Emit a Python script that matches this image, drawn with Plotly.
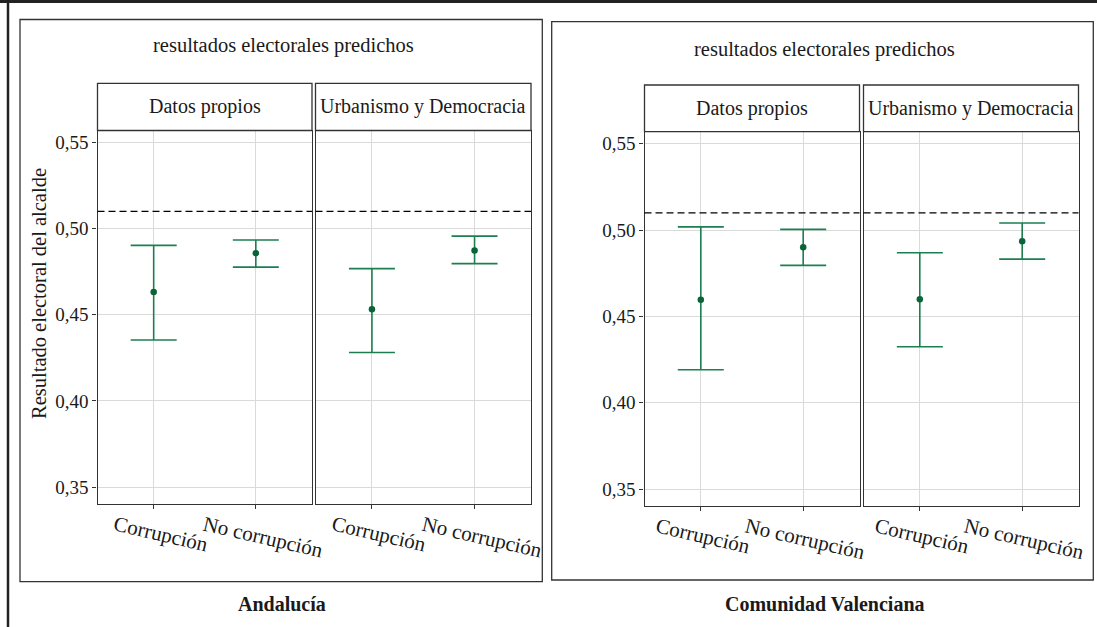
import plotly.graph_objects as go

# ---------------- data ----------------
categories = ["Corrupción", "No corrupción"]
facets = ["Datos propios", "Urbanismo y Democracia"]
regions = ["Andalucía", "Comunidad Valenciana"]
panel_title = "resultados electorales predichos"
y_title = "Resultado electoral del alcalde"

and_dp_mean = [0.4632, 0.4858]
and_dp_lower = [0.4354, 0.4777]
and_dp_upper = [0.4903, 0.4934]

and_ud_mean = [0.4532, 0.4874]
and_ud_lower = [0.4281, 0.4797]
and_ud_upper = [0.4768, 0.4957]

val_dp_mean = [0.4596, 0.4900]
val_dp_lower = [0.4191, 0.4796]
val_dp_upper = [0.5019, 0.5004]

val_ud_mean = [0.4600, 0.4935]
val_ud_lower = [0.4324, 0.4832]
val_ud_upper = [0.4869, 0.5041]

reference_line = 0.51
y_tickvals = [0.35, 0.40, 0.45, 0.50, 0.55]
y_ticktext = ["0,35", "0,40", "0,45", "0,50", "0,55"]

# ---------------- layout helpers ----------------
W, H = 1097, 627
def px(x):
    return x / W
def py(y):
    return 1 - y / H

FONT = "Liberation Serif"
TXT = "#1a1a1a"
BORDER = "#333333"
GRID = "#dadada"
BAR = "#1d7f50"
PT = "#0b6338"

panels = [
    # (x0, x1, ytop, ybottom, strip_top, mean, lower, upper, facet, show_y, label_shift)
    (97.5, 312.0, 130.5, 504.0, 83.3, and_dp_mean, and_dp_lower, and_dp_upper, facets[0], True, 7),
    (315.5, 531.0, 130.5, 504.0, 83.3, and_ud_mean, and_ud_lower, and_ud_upper, facets[1], False, 7),
    (644.5, 859.5, 131.7, 506.0, 85.0, val_dp_mean, val_dp_lower, val_dp_upper, facets[0], True, 2),
    (863.5, 1078.5, 131.7, 506.0, 85.0, val_ud_mean, val_ud_lower, val_ud_upper, facets[1], False, 2),
]

fig = go.Figure()
layout_axes = {}
shapes = []
annotations = []

for i, (x0, x1, yt, yb, st, mean, lo, hi, facet, show_y, lshift) in enumerate(panels):
    n = i + 1
    xa = "x" if n == 1 else f"x{n}"
    ya = "y" if n == 1 else f"y{n}"
    fig.add_trace(go.Scatter(
        x=categories, y=mean, mode="markers",
        marker=dict(color=PT, size=6.5),
        error_y=dict(type="data", symmetric=False,
                     array=[h - m for h, m in zip(hi, mean)],
                     arrayminus=[m - l for m, l in zip(mean, lo)],
                     color=BAR, thickness=1.6, width=23),
        xaxis=xa, yaxis=ya, showlegend=False, hoverinfo="skip"))

    layout_axes[f"xaxis{'' if n == 1 else n}"] = dict(
        domain=[px(x0), px(x1)], anchor=ya, type="category",
        categoryorder="array", categoryarray=categories,
        range=[-0.55, 1.55], showgrid=True, gridcolor=GRID, gridwidth=1,
        showline=True, mirror=True, linecolor=BORDER, linewidth=1.3,
        ticks="outside", ticklen=4, tickcolor=BORDER, tickwidth=1,
        showticklabels=False, zeroline=False, fixedrange=True)
    layout_axes[f"yaxis{'' if n == 1 else n}"] = dict(
        domain=[py(yb), py(yt)], anchor=xa,
        range=[0.3402, 0.5570], tickvals=y_tickvals, ticktext=y_ticktext,
        showticklabels=show_y, ticks="outside" if show_y else "",
        ticklen=4, tickcolor=BORDER, tickwidth=1,
        tickfont=dict(family=FONT, size=19, color=TXT),
        showgrid=True, gridcolor=GRID, gridwidth=1,
        showline=True, mirror=True, linecolor=BORDER, linewidth=1.3,
        zeroline=False, fixedrange=True)

    # dashed reference line
    shapes.append(dict(type="line", xref=f"{xa} domain", yref=ya,
                       x0=0, x1=1, y0=reference_line, y1=reference_line,
                       line=dict(color="black", width=1.3, dash="7px,4px")))
    # strip box
    shapes.append(dict(type="rect", xref="paper", yref="paper",
                       x0=px(x0), x1=px(x1), y0=py(yt), y1=py(st),
                       line=dict(color=BORDER, width=1.3), fillcolor="white"))
    annotations.append(dict(text=facet, xref="paper", yref="paper",
                            x=px((x0 + x1) / 2), y=py((yt + st) / 2),
                            xanchor="center", yanchor="middle", showarrow=False,
                            font=dict(family=FONT, size=20, color=TXT)))
    # x tick labels (rotated, centered under the ticks)
    for c in categories:
        annotations.append(dict(text=c, x=c, xref=xa, yref="paper",
                                y=py(yb + 5), xanchor="center", yanchor="top",
                                xshift=lshift, textangle=13, showarrow=False,
                                font=dict(family=FONT, size=21, color=TXT)))

# outer boxes around each region
shapes.append(dict(type="rect", xref="paper", yref="paper",
                   x0=px(20), x1=px(542.3), y0=py(581.7), y1=py(19.5),
                   line=dict(color=BORDER, width=1.3)))
shapes.append(dict(type="rect", xref="paper", yref="paper",
                   x0=px(551.7), x1=px(1093.3), y0=py(580), y1=py(21.7),
                   line=dict(color=BORDER, width=1.3)))
# page frame (top and left)
shapes.append(dict(type="line", xref="paper", yref="paper",
                   x0=0, x1=1, y0=py(1.5), y1=py(1.5),
                   line=dict(color="#222222", width=3)))
shapes.append(dict(type="line", xref="paper", yref="paper",
                   x0=px(8), x1=px(8), y0=0, y1=1,
                   line=dict(color="#222222", width=2.5)))

# panel titles
for cx, cy in [(283, 45), (824, 49)]:
    annotations.append(dict(text=panel_title, xref="paper", yref="paper",
                            x=px(cx), y=py(cy), xanchor="center", yanchor="middle",
                            showarrow=False, font=dict(family=FONT, size=20.5, color=TXT)))
# region captions
for txt, cx in zip(regions, [282, 825]):
    annotations.append(dict(text=f"<b>{txt}</b>", xref="paper", yref="paper",
                            x=px(cx), y=py(604), xanchor="center", yanchor="middle",
                            showarrow=False, font=dict(family=FONT, size=20, color=TXT)))
# y axis title
annotations.append(dict(text=y_title, xref="paper", yref="paper",
                        x=px(39), y=py(294), xanchor="center", yanchor="middle",
                        textangle=-90, showarrow=False,
                        font=dict(family=FONT, size=20.5, color=TXT)))

fig.update_layout(
    width=W, height=H, margin=dict(l=0, r=0, t=0, b=0),
    paper_bgcolor="white", plot_bgcolor="white",
    shapes=shapes, annotations=annotations, showlegend=False,
    font=dict(family=FONT, color=TXT),
    **layout_axes)

fig.write_html("out.html", config={"displayModeBar": False},
               post_script="document.body.style.margin='0px';document.body.style.overflow='hidden';")
